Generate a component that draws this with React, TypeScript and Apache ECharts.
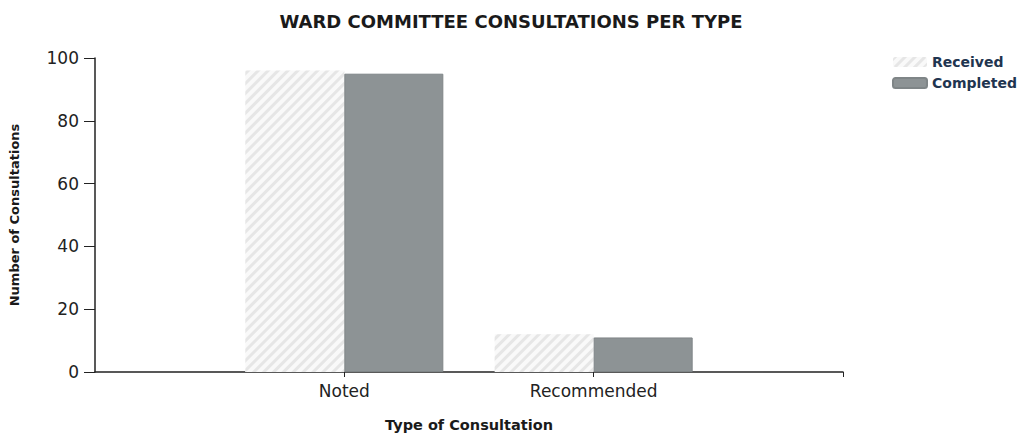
import React, { useEffect, useRef } from "react";
import * as echarts from "echarts";

const categories = ["", "Noted", "Recommended", ""];
const received = [null, 96, 12, null];
const completed = [null, 95, 11, null];
const yTicks = [0, 20, 40, 60, 80, 100];

export default function App() {
  const ref = useRef<HTMLDivElement>(null);
  useEffect(() => {
    const chart = echarts.init(ref.current!, undefined, { renderer: "svg" });
    const font = "'DejaVu Sans', Arial, sans-serif";
    chart.setOption({
      animation: false,
      backgroundColor: "#ffffff",
      title: {
        text: "WARD COMMITTEE CONSULTATIONS PER TYPE",
        left: "center",
        top: 7,
        textStyle: { fontFamily: font, fontSize: 18, fontWeight: "bold", color: "#1a1a1a" },
      },
      legend: {
        orient: "vertical",
        right: 0,
        top: 50,
        itemWidth: 34,
        itemHeight: 10,
        itemGap: 7,
        textStyle: { fontFamily: font, fontSize: 14, fontWeight: "bold", color: "#1f3550" },
        data: ["Received", "Completed"],
      },
      grid: { left: 91, right: 179, top: 58, bottom: 59, containLabel: false },
      xAxis: {
        type: "category",
        data: categories,
        boundaryGap: false,
        name: "Type of Consultation",
        nameLocation: "middle",
        nameGap: 45,
        nameTextStyle: { fontFamily: font, fontSize: 14.5, fontWeight: "bold", color: "#1a1a1a" },
        axisLine: { lineStyle: { color: "#222", width: 1.5 } },
        axisTick: {
          show: true,
          length: 5,
          inside: false,
          interval: (i: number) => i !== 0,
          lineStyle: { color: "#222" },
        },
        axisLabel: {
          fontFamily: font,
          fontSize: 17,
          color: "#222",
          margin: 10,
          interval: 0,
        },
      },
      yAxis: {
        type: "value",
        min: yTicks[0],
        max: yTicks[yTicks.length - 1],
        interval: 20,
        name: "Number of Consultations",
        nameLocation: "middle",
        nameGap: 74,
        nameTextStyle: { fontFamily: font, fontSize: 13, fontWeight: "bold", color: "#1a1a1a" },
        axisLine: { show: true, lineStyle: { color: "#222", width: 1.5 } },
        axisTick: { show: true, length: 11, lineStyle: { color: "#222" } },
        axisLabel: { fontFamily: font, fontSize: 17, color: "#222", margin: 16 },
        splitLine: { show: false },
      },
      series: [
        {
          name: "Received",
          type: "bar",
          data: received,
          barWidth: 99,
          barGap: "0%",
          itemStyle: {
            color: "#f9f9f9",
            decal: {
              symbol: "rect",
              color: "#e6e6e6",
              dashArrayX: [1, 0],
              dashArrayY: [3, 4],
              rotation: -Math.PI / 4,
            },
          },
        },
        {
          name: "Completed",
          type: "bar",
          data: completed,
          barWidth: 99,
          barGap: "0%",
          itemStyle: { color: "#8d9395", borderColor: "#7f8587", borderWidth: 1 },
        },
      ],
    });
    return () => chart.dispose();
  }, []);
  return (
    <div
      ref={ref}
      style={{ position: "absolute", left: 0, top: 0, width: 1022, height: 437 }}
    />
  );
}
